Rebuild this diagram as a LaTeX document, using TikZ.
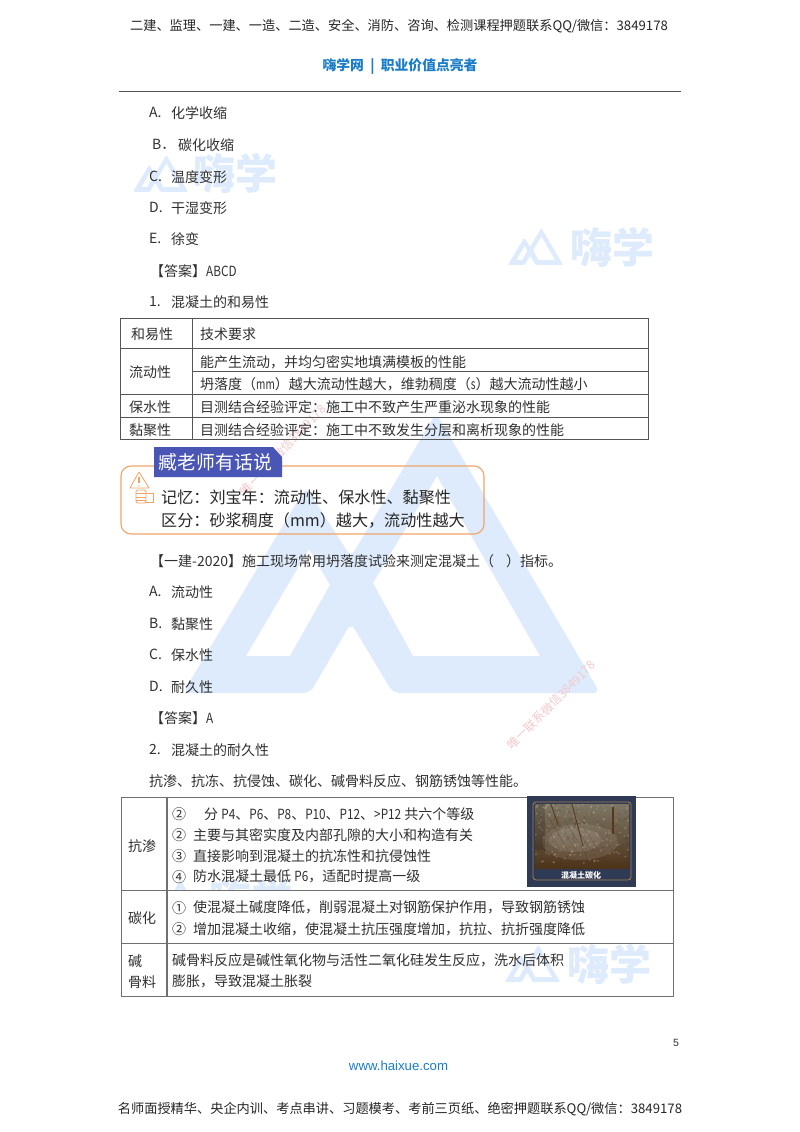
\documentclass[tikz,border=0pt]{standalone}
\usepackage{fontspec}
\setmainfont{Noto Sans CJK SC}
\newfontfamily\latinsans{Liberation Sans}
\definecolor{wmblue}{HTML}{DEEBFC}
\definecolor{wmpink}{HTML}{F5C9CB}
\definecolor{ink}{HTML}{303030}
\definecolor{hxblue}{HTML}{1B7DC8}
\definecolor{rulegray}{HTML}{555555}
\definecolor{softgray}{HTML}{707070}
\definecolor{callorange}{HTML}{F0A468}
\definecolor{titleblue}{HTML}{4A56B6}
\definecolor{navy}{HTML}{2F3A55}
\definecolor{concrete}{HTML}{A89F88}
\newcommand{\nl}[1]{\scalebox{0.84}[1]{#1}}
\newcommand{\nn}[1]{\scalebox{0.72}[1]{#1}}
\tikzset{
  body/.style={anchor=west,inner sep=0pt,text=ink,yshift=-0.8pt,font=\fontsize{14}{16}\selectfont},
  cbody/.style={body,anchor=center},
  hdr/.style={anchor=center,inner sep=0pt,text=black!85,font=\fontsize{13.2}{15}\selectfont},
  calltext/.style={anchor=west,inner sep=0pt,text=black!85,font=\fontsize{16.1}{18}\selectfont},
  pinktext/.style={anchor=center,inner sep=0pt,text=wmpink,font=\fontsize{12}{14}\selectfont},
  tline/.style={draw=rulegray,line width=0.9pt},
  sline/.style={draw=softgray,line width=0.9pt},
  wmtext/.style={anchor=west,inner sep=0pt,text=wmblue,font=\fontsize{42}{44}\selectfont\bfseries},
}
\newcommand{\hxmark}[4]{%
  \begin{scope}[shift={(#1,#2)},scale=#3]
    \fill[wmblue,even odd rule,rounded corners=#4]
      (253,0) -- (417,280) -- (210,280) -- (168,210) -- (127,280) -- (0,280) -- (123,74) -- (168,144) -- cycle
      [sharp corners]
      (254,63) -- (357,243) -- (230,243) -- (190,170) -- cycle
      (63,243) -- (126,136) -- (147,172) -- (107,243) -- cycle;
  \end{scope}}
\begin{document}
\begin{tikzpicture}[x=1pt,y=-1pt]
\useasboundingbox (0,0) rectangle (800,1132);
\fill[white] (0,0) rectangle (800,1132);
% watermarks
\hxmark{183}{413}{1}{7pt}
\hxmark{133}{155}{0.132}{1pt}
\node[wmtext] (w1) at (193,173) {嗨学};
\hxmark{508}{228}{0.132}{1pt}
\node[wmtext] (w2) at (570,247) {嗨学};
\hxmark{147}{880}{0.132}{1pt}
\node[wmtext] (w3) at (209,899) {嗨学};
\hxmark{505}{945}{0.132}{1pt}
\node[wmtext] (w4) at (567,964) {嗨学};
\fill[white] (121,890) rectangle (673,943);
\node[pinktext,rotate=47] (p1) at (283,450) {唯一联系微信3849178};
\node[pinktext,rotate=45] (p2) at (551,705) {唯一联系微信3849178};
% header
\node[hdr] (h1) at (399,26) {二建、监理、一建、一造、二造、安全、消防、咨询、检测课程押题联系QQ/微信：3849178};
\node[anchor=center,inner sep=0pt,text=hxblue,font=\fontsize{13.8}{16}\selectfont\bfseries] (h2) at (400,66) {嗨学网\ \ |\ \ 职业价值点亮者};
\draw[rulegray,line width=1pt] (119,91) -- (681,91);
% top text
\node[body] (a0) at (149,112) {A.}; \node[body] (a1) at (171,112) {化学收缩};
\node[body] (b0) at (152,144) {B．}; \node[body] (b1) at (178,144) {碳化收缩};
\node[body] (c0) at (149,176) {C.}; \node[body] (c1) at (171,176) {温度变形};
\node[body] (d0) at (149,207) {D.}; \node[body] (d1) at (171,207) {干湿变形};
\node[body] (e0) at (149,238) {E.}; \node[body] (e1) at (171,238) {徐变};
\node[body] (ans1) at (150,270) {【答案】\nl{ABCD}};
\node[body] (s0) at (149,301) {1.}; \node[body] (s1) at (171,301) {混凝土的和易性};
% table 1
\draw[tline] (120,318) rectangle (648,439);
\draw[tline] (192,318) -- (192,439);
\draw[tline] (120,348) -- (648,348);
\draw[tline] (192,371) -- (648,371);
\draw[tline] (120,394) -- (648,394);
\draw[tline] (120,417) -- (648,417);
\node[cbody] (t1a) at (152,333) {和易性};
\node[body] (t1b) at (200,333) {技术要求};
\node[cbody] (t1c) at (150,371) {流动性};
\node[body] (t1d) at (200,361) {能产生流动，并均匀密实地填满模板的性能};
\node[body] (t1e) at (200,383) {坍落度（\nn{mm}）越大流动性越大，维勃稠度（\nn{s}）越大流动性越小};
\node[cbody] (t1f) at (150,406) {保水性};
\node[body] (t1g) at (200,406) {目测结合经验评定：施工中不致产生严重泌水现象的性能};
\node[cbody] (t1h) at (150,429) {黏聚性};
\node[body] (t1i) at (200,429) {目测结合经验评定：施工中不致发生分层和离析现象的性能};
% callout
\draw[callorange,line width=1.1pt,rounded corners=10pt] (121,466) rectangle (484,534);
\fill[titleblue] (154,447) -- (273,447) -- (282,457) -- (282,477) -- (154,477) -- cycle;
\node[anchor=center,inner sep=0pt,text=white,font=\fontsize{18.9}{20}\selectfont] (ct) at (215.5,462) {臧老师有话说};
\node[calltext] (c1l) at (161,497) {记忆：刘宝年：流动性、保水性、黏聚性};
\node[calltext] (c2l) at (161,520) {区分：砂浆稠度（mm）越大，流动性越大};
% icon
\begin{scope}[callorange,line width=0.8pt,line join=round]
  \draw (139,472) -- (149,488) -- (130,488) -- cycle;
  \draw[line width=1.2pt] (139,477) -- (139,483);
  \fill (139,485.5) circle (0.7);
  \draw[rounded corners=1.5pt] (136,490) rectangle (146,503);
  \draw (136,493.5) -- (146,493.5) (136,497) -- (146,497) (136,500) -- (146,500);
  \draw (146,493) -- (153,493) -- (153,502) -- (146,502);
\end{scope}
% question
\node[body] (q) at (150,560) {【一建-2020】施工现场常用坍落度试验来测定混凝土（\hspace{12pt}）指标。};
\node[body] (qa0) at (149,591) {A.}; \node[body] (qa1) at (171,591) {流动性};
\node[body] (qb0) at (149,623) {B.}; \node[body] (qb1) at (171,623) {黏聚性};
\node[body] (qc0) at (149,654) {C.}; \node[body] (qc1) at (171,654) {保水性};
\node[body] (qd0) at (149,686) {D.}; \node[body] (qd1) at (171,686) {耐久性};
\node[body] (ans2) at (150,717) {【答案】\nl{A}};
\node[body] (s2) at (149,749) {2.}; \node[body] (s3) at (171,749) {混凝土的耐久性};
\node[body] (s4) at (149,780) {抗渗、抗冻、抗侵蚀、碳化、碱骨料反应、钢筋锈蚀等性能。};
% table 2
\draw[sline] (121,797) rectangle (673,996);
\draw[softgray,line width=1.9pt] (167,797) -- (167,996);
\draw[sline] (121,890) -- (673,890);
\draw[sline] (121,943) -- (673,943);
\node[body] (t2a) at (128,845) {抗渗};
\node[body] (t2a0) at (172,813) {②}; \node[body] (t2a1) at (204,813) {分 \nl{P4}、\nl{P6}、\nl{P8}、\nl{P10}、\nl{P12}、\nl{>P12} 共六个等级};
\node[body] (t2b0) at (172,834) {②}; \node[body] (t2b1) at (193,834) {主要与其密实度及内部孔隙的大小和构造有关};
\node[body] (t2c0) at (172,855) {③}; \node[body] (t2c1) at (193,855) {直接影响到混凝土的抗冻性和抗侵蚀性};
\node[body] (t2d0) at (172,876) {④}; \node[body] (t2d1) at (193,876) {防水混凝土最低 \nl{P6}，适配时提高一级};
\node[body] (t2e) at (128,917) {碳化};
\node[body] (t2e0) at (172,907) {①}; \node[body] (t2e1) at (193,907) {使混凝土碱度降低，削弱混凝土对钢筋保护作用，导致钢筋锈蚀};
\node[body] (t2f0) at (172,928) {②}; \node[body] (t2f1) at (193,928) {增加混凝土收缩，使混凝土抗压强度增加，抗拉、抗折强度降低};
\node[body] (t2g) at (128,960) {碱};
\node[body] (t2h) at (128,981) {骨料};
\node[body] (t2i) at (172,960) {碱骨料反应是碱性氧化物与活性二氧化硅发生反应，洗水后体积};
\node[body] (t2j) at (172,981) {膨胀，导致混凝土胀裂};
% photo
\fill[navy] (527,796) rectangle (636,887);
\draw[brown!70!gray,line width=0.8pt,rounded corners=3pt] (533,802) rectangle (631,880);
\shade[top color=concrete!75!black,middle color=concrete,bottom color=black!60!brown] (535,804) rectangle (629,868);
\begin{scope}
  \clip (535,804) rectangle (629,868);
  \fill[white,opacity=.10] (580,842) ellipse (38 and 18);
  \fill[white,opacity=.10] (575,840) ellipse (26 and 12);
  \fill[black,opacity=.18] (535,804) rectangle (545,850);
  \pgfmathsetseed{42}
  \foreach \i in {1,...,260}{
    \pgfmathsetmacro{\px}{535+94*rnd}
    \pgfmathsetmacro{\py}{804+60*rnd}
    \pgfmathsetmacro{\ps}{rnd>0.5?100:0}
    \fill[white!\ps!black!60!brown,opacity=.25] (\px,\py) circle (1.1);
  }
  \foreach \i in {0,...,5}{
    \draw[black!60!brown,opacity=.3,line width=.5pt] ({538+\i*9},{812+\i*3}) -- ({560+\i*9},{850+\i*2});
  }
\end{scope}
\begin{scope}[line width=0.9pt,draw=black!55!brown]
  \draw (572,804) -- (583,846);
  \draw (551,804) -- (558,825);
  \draw[line width=1.1pt] (613,807) -- (613,834);
\end{scope}
\node[anchor=center,inner sep=0pt,text=white,font=\fontsize{8}{9}\selectfont\bfseries] (pl) at (581,875) {混凝土碳化};
% footer
\node[anchor=center,inner sep=0pt,text=ink,font=\latinsans\fontsize{10.5}{12}\selectfont] (pg) at (676,1043) {5};
\node[anchor=center,inner sep=0pt,text=hxblue,font=\latinsans\fontsize{13.2}{15}\selectfont] (url) at (398.5,1066) {www.haixue.com};
\node[hdr] (f1) at (400,1109) {名师面授精华、央企内训、考点串讲、习题模考、考前三页纸、绝密押题联系QQ/微信：3849178};
\end{tikzpicture}
\end{document}
